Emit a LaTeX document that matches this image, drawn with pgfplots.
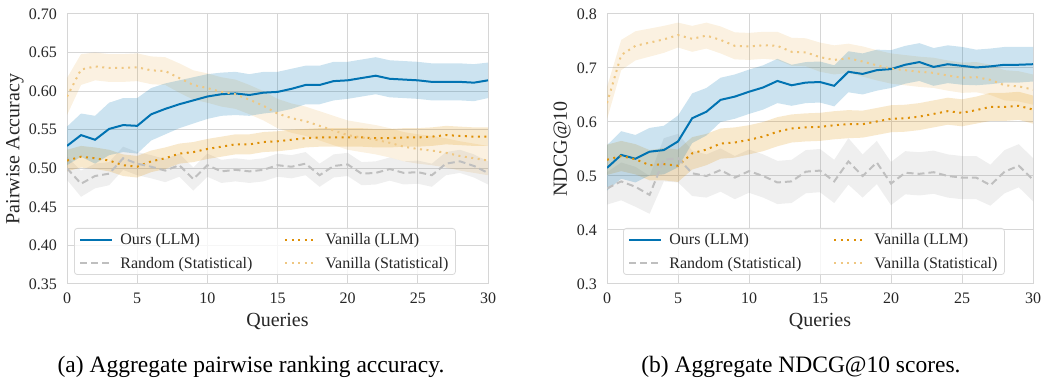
\documentclass[border=0pt]{standalone}
\usepackage{fontspec}
\setmainfont{Liberation Serif}
\usepackage{pgfplots}
\pgfplotsset{compat=1.18}
\usepackage{pgfplotstable}
\usepgfplotslibrary{fillbetween}
\definecolor{cblue}{HTML}{0173B2}
\definecolor{corange}{HTML}{DE8F05}
\definecolor{cgray}{HTML}{949494}
\definecolor{cgrayline}{HTML}{BFBFBF}
\definecolor{corangelight}{HTML}{EFC782}
\definecolor{gridc}{HTML}{D6D6D6}
\definecolor{txt}{HTML}{262626}
\newcommand\tickfont{\fontsize{16}{19}\selectfont}
\newcommand\labelfont{\fontsize{20}{24}\selectfont}
\newcommand\legfont{\fontsize{16}{19}\selectfont}
\newcommand\capfont{\fontsize{23.5}{28}\selectfont}

\pgfplotstableread{
x ours oe vllm ve rand re vstat se
0 0.529 0.025 0.510 0.014 0.500 0.015 0.593 0.024
1 0.543 0.028 0.515 0.014 0.480 0.017 0.628 0.020
2 0.537 0.031 0.513 0.014 0.490 0.016 0.632 0.018
3 0.551 0.034 0.510 0.014 0.493 0.015 0.630 0.018
4 0.556 0.035 0.504 0.014 0.513 0.015 0.630 0.018
5 0.555 0.036 0.502 0.014 0.506 0.015 0.631 0.018
6 0.570 0.034 0.509 0.014 0.502 0.015 0.627 0.018
7 0.577 0.033 0.513 0.014 0.497 0.015 0.626 0.018
8 0.583 0.031 0.519 0.013 0.504 0.015 0.617 0.019
9 0.588 0.030 0.521 0.013 0.486 0.015 0.608 0.019
10 0.593 0.029 0.525 0.013 0.504 0.015 0.604 0.019
11 0.596 0.028 0.528 0.013 0.496 0.015 0.599 0.019
12 0.597 0.028 0.531 0.013 0.498 0.015 0.596 0.019
13 0.595 0.027 0.531 0.013 0.496 0.015 0.589 0.019
14 0.598 0.027 0.534 0.013 0.498 0.015 0.581 0.019
15 0.599 0.026 0.535 0.013 0.504 0.015 0.571 0.019
16 0.603 0.026 0.537 0.013 0.502 0.015 0.565 0.019
17 0.608 0.025 0.539 0.012 0.506 0.015 0.561 0.019
18 0.608 0.025 0.540 0.012 0.491 0.015 0.555 0.019
19 0.613 0.025 0.540 0.012 0.503 0.015 0.549 0.019
20 0.614 0.024 0.540 0.012 0.505 0.015 0.543 0.019
21 0.617 0.024 0.540 0.012 0.493 0.015 0.540 0.019
22 0.620 0.024 0.539 0.012 0.494 0.015 0.537 0.019
23 0.616 0.024 0.539 0.012 0.499 0.015 0.533 0.019
24 0.615 0.024 0.540 0.012 0.494 0.015 0.528 0.019
25 0.614 0.024 0.540 0.012 0.495 0.015 0.525 0.019
26 0.612 0.024 0.541 0.012 0.491 0.015 0.523 0.019
27 0.612 0.024 0.543 0.012 0.506 0.015 0.520 0.019
28 0.612 0.024 0.542 0.012 0.509 0.015 0.516 0.019
29 0.611 0.024 0.541 0.012 0.503 0.015 0.513 0.019
30 0.614 0.023 0.541 0.012 0.494 0.015 0.510 0.019
}\dataL

\pgfplotstableread{
x ours oe vllm ve rand re vstat se
0 0.515 0.042 0.530 0.028 0.477 0.030 0.635 0.030
1 0.539 0.044 0.537 0.028 0.490 0.035 0.724 0.028
2 0.532 0.044 0.531 0.028 0.480 0.037 0.741 0.027
3 0.545 0.044 0.520 0.028 0.465 0.035 0.747 0.026
4 0.548 0.045 0.522 0.030 0.530 0.040 0.753 0.025
5 0.564 0.048 0.519 0.030 0.533 0.045 0.761 0.023
6 0.607 0.046 0.542 0.030 0.505 0.042 0.754 0.024
7 0.619 0.044 0.549 0.029 0.500 0.040 0.760 0.024
8 0.641 0.041 0.560 0.028 0.511 0.040 0.752 0.025
9 0.647 0.041 0.562 0.028 0.497 0.040 0.741 0.025
10 0.656 0.041 0.567 0.027 0.509 0.040 0.740 0.025
11 0.664 0.041 0.573 0.027 0.500 0.040 0.742 0.025
12 0.676 0.041 0.582 0.027 0.488 0.040 0.741 0.026
13 0.668 0.038 0.588 0.026 0.490 0.040 0.730 0.026
14 0.673 0.038 0.590 0.026 0.508 0.040 0.729 0.026
15 0.674 0.038 0.591 0.026 0.510 0.040 0.720 0.027
16 0.667 0.038 0.594 0.026 0.490 0.040 0.715 0.027
17 0.693 0.038 0.596 0.026 0.527 0.043 0.718 0.027
18 0.689 0.038 0.596 0.025 0.500 0.040 0.712 0.028
19 0.696 0.038 0.601 0.025 0.525 0.040 0.705 0.028
20 0.698 0.035 0.606 0.025 0.486 0.040 0.699 0.028
21 0.706 0.035 0.607 0.025 0.506 0.040 0.696 0.028
22 0.711 0.035 0.610 0.025 0.504 0.040 0.693 0.028
23 0.702 0.035 0.615 0.025 0.507 0.040 0.691 0.028
24 0.707 0.035 0.620 0.025 0.500 0.040 0.686 0.028
25 0.704 0.035 0.617 0.025 0.497 0.040 0.682 0.028
26 0.701 0.033 0.622 0.025 0.497 0.040 0.683 0.028
27 0.703 0.033 0.628 0.026 0.483 0.038 0.678 0.028
28 0.706 0.033 0.628 0.026 0.508 0.040 0.668 0.028
29 0.706 0.033 0.630 0.026 0.519 0.040 0.666 0.028
30 0.707 0.032 0.623 0.026 0.493 0.040 0.660 0.028
}\dataR

% band: table, value column, error column, colour, opacity
\newcommand{\band}[5]{%
  \addplot[draw=none, name path=u#2, forget plot] table[x=x, y expr=\thisrow{#2}+\thisrow{#3}]{#1};
  \addplot[draw=none, name path=l#2, forget plot] table[x=x, y expr=\thisrow{#2}-\thisrow{#3}]{#1};
  \addplot[fill=#4, fill opacity=#5, draw=none, forget plot] fill between[of=u#2 and l#2];
}

\pgfplotsset{
  common/.style={
    scale only axis, height=270pt,
    xmin=0, xmax=30, xtick={0,5,...,30},
    grid=major, major grid style={gridc, line width=1pt},
    axis line style={gridc, line width=1pt},
    tick style={draw=none}, major tick length=0pt,
    tick label style={font=\tickfont, text=txt, inner sep=0pt},
    xticklabel shift=9pt, yticklabel shift=10pt,
    /pgf/number format/assume math mode=true,
    label style={font=\labelfont, text=txt},
    xlabel style={at={(axis description cs:0.5,0)}, anchor=north, inner sep=0pt, yshift=-29pt},
    legend columns=2,
    legend cell align=left,
    legend style={at={(axis description cs:0,0)}, anchor=south west,
      xshift=7pt, yshift=9pt, draw=black!15, line width=0.8pt, rounded corners=3pt,
      fill=white, fill opacity=0.8, draw opacity=1, text opacity=1,
      font=\legfont, text=txt, inner xsep=5pt, inner ysep=3pt, row sep=7pt,
      /tikz/every odd column/.append style={column sep=5pt},
      /tikz/every even column/.append style={column sep=30pt}},
    legend image code/.code={\draw[##1] (0pt,0pt) -- (32pt,0pt);},
    ours/.style={cblue, line width=2pt},
    vllm/.style={corange, line width=2pt, dash pattern=on 2pt off 4.5pt},
    rnd/.style={cgrayline, line width=2pt, dash pattern=on 7pt off 4pt},
    vstat/.style={corangelight, line width=2pt, dash pattern=on 2pt off 4.5pt},
  }
}

\begin{document}
\begin{tikzpicture}
\begin{axis}[common, at={(0pt,0pt)}, anchor=south west, width=421pt,
  ymin=0.35, ymax=0.70, ytick={0.35,0.40,...,0.701},
  yticklabel style={/pgf/number format/.cd, fixed, fixed zerofill, precision=2},
  xlabel={Queries}, ylabel={Pairwise Accuracy},
  ylabel style={at={(axis description cs:-0.1235,0.5)}, anchor=center}]
  \band{\dataL}{vstat}{se}{corange}{0.12}
  \band{\dataL}{rand}{re}{cgray}{0.15}
  \band{\dataL}{vllm}{ve}{corange}{0.2}
  \band{\dataL}{ours}{oe}{cblue}{0.2}
  \addplot[ours] table[x=x, y=ours]{\dataL};
  \addlegendentry{Ours (LLM)}
  \addplot[vllm] table[x=x, y=vllm]{\dataL};
  \addlegendentry{Vanilla (LLM)}
  \addplot[rnd] table[x=x, y=rand]{\dataL};
  \addlegendentry{Random (Statistical)}
  \addplot[vstat] table[x=x, y=vstat]{\dataL};
  \addlegendentry{Vanilla (Statistical)}
\end{axis}
\begin{axis}[common, at={(540pt,0pt)}, anchor=south west, width=426pt,
  ymin=0.3, ymax=0.8, ytick={0.3,0.4,...,0.801},
  yticklabel style={/pgf/number format/.cd, fixed, fixed zerofill, precision=1},
  xlabel={Queries}, ylabel={NDCG@10},
  ylabel style={at={(axis description cs:-0.1056,0.5)}, anchor=center},
  legend style={xshift=9pt}]
  \band{\dataR}{vstat}{se}{corange}{0.12}
  \band{\dataR}{rand}{re}{cgray}{0.15}
  \band{\dataR}{vllm}{ve}{corange}{0.2}
  \band{\dataR}{ours}{oe}{cblue}{0.2}
  \addplot[ours] table[x=x, y=ours]{\dataR};
  \addlegendentry{Ours (LLM)}
  \addplot[vllm] table[x=x, y=vllm]{\dataR};
  \addlegendentry{Vanilla (LLM)}
  \addplot[rnd] table[x=x, y=rand]{\dataR};
  \addlegendentry{Random (Statistical)}
  \addplot[vstat] table[x=x, y=vstat]{\dataR};
  \addlegendentry{Vanilla (Statistical)}
\end{axis}
\node[font=\capfont, text=black, anchor=base] at (184pt,-89pt) {(a) Aggregate pairwise ranking accuracy.};
\node[font=\capfont, text=black, anchor=base] at (734pt,-89pt) {(b) Aggregate NDCG@10 scores.};
\pgfresetboundingbox
\useasboundingbox (-67pt,-95pt) rectangle (980pt,284pt);
\end{tikzpicture}
\end{document}
